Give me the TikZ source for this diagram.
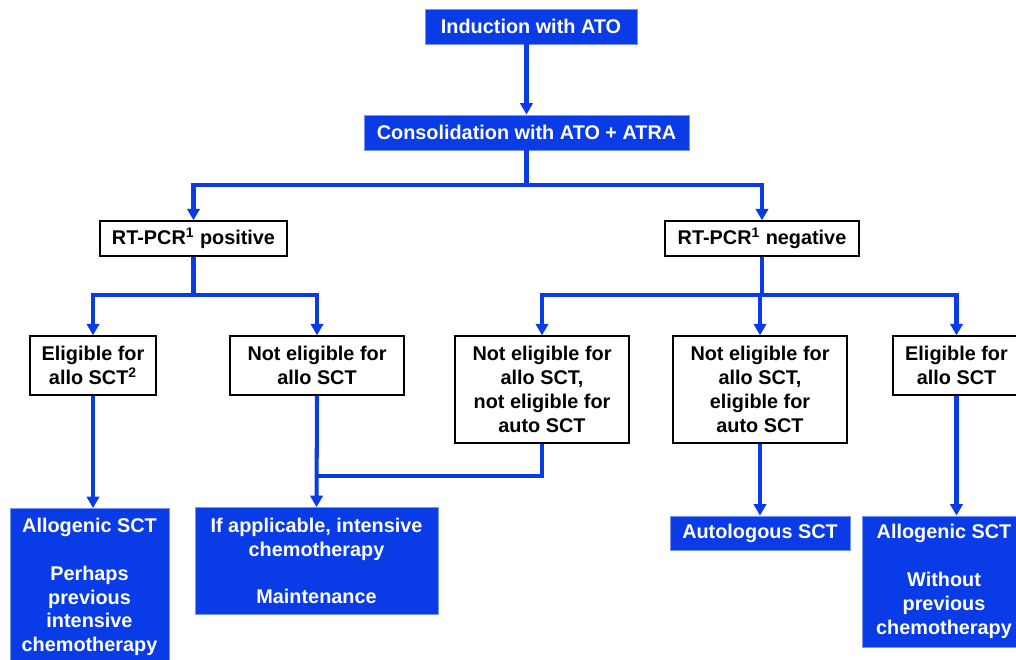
\documentclass[tikz,border=0pt]{standalone}
\usepackage{fontspec}
\setmainfont{Liberation Sans}
\usetikzlibrary{arrows.meta}
\definecolor{apblue}{RGB}{9,59,230}
\tikzset{every node/.style={font=\fontsize{11.3}{13.6}\selectfont\bfseries,align=center,inner sep=0pt},
  wbox/.style={draw=black,line width=0.8pt,fill=white},
  bbox/.style={draw=apblue!55,fill=apblue,text=white,line width=0.5pt},
  link/.style={apblue,line width=2.3pt},
  arr/.style={link,-{Triangle[width=7pt,length=6.5pt]}}}

\begin{document}
\begin{tikzpicture}[x=0.02cm,y=-0.02cm]
      \useasboundingbox (0,0) rectangle (1016,659);
      \node[bbox,minimum width=4.24cm,minimum height=0.7cm] (ind) at (531,26.5) {Induction with ATO};
      \node[bbox,minimum width=6.5cm,minimum height=0.7cm] (cons) at (526.5,132.5) {Consolidation with ATO + ATRA};
      \node[wbox,minimum width=3.74cm,minimum height=0.7cm] (pos) at (193.5,238.5) {RT-PCR\textsuperscript{1} positive};
      \node[wbox,minimum width=3.88cm,minimum height=0.7cm] (neg) at (762,238.5) {RT-PCR\textsuperscript{1} negative};
      \node[wbox,minimum width=2.52cm,minimum height=1.18cm] (eligL) at (93,365.5) {Eligible for\\allo SCT\textsuperscript{2}};
      \node[wbox,minimum width=3.48cm,minimum height=1.18cm] (notL) at (317,365.5) {Not eligible for\\allo SCT};
      \node[wbox,minimum width=3.48cm,minimum height=2.14cm] (nn) at (542,389.5) {Not eligible for\\allo SCT,\\not eligible for\\auto SCT};
      \node[wbox,minimum width=3.48cm,minimum height=2.14cm] (ne) at (760,389.5) {Not eligible for\\allo SCT,\\eligible for\\auto SCT};
      \node[wbox,minimum width=2.54cm,minimum height=1.18cm] (eligR) at (956.5,365.5) {Eligible for\\allo SCT};
      \node[bbox,minimum width=3.18cm,minimum height=3.14cm] (alloL) at (89.5,587) {Allogenic SCT\\[13.6pt]Perhaps\\previous\\intensive\\chemotherapy};
      \node[bbox,minimum width=4.86cm,minimum height=2.14cm] (chemo) at (316.5,561) {If applicable, intensive\\chemotherapy\\[13.6pt]Maintenance};
      \node[bbox,minimum width=3.6cm,minimum height=0.68cm] (auto) at (760,533) {Autologous SCT};
      \node[bbox,minimum width=3.28cm,minimum height=2.62cm] (alloR) at (944,581.5) {Allogenic SCT\\[13.6pt]Without\\previous\\chemotherapy};

      \coordinate (c1) at (526.5,185);
      \coordinate (c2) at (193.5,295);
      \coordinate (c3) at (762,295);
      \coordinate (c4) at (317,476);

      \draw[arr] (ind.south -| cons.north) -- (cons.north);
      \draw[link] (cons.south) -- (c1);
      \draw[arr] (c1) -| (pos.north);
      \draw[arr] (c1) -| (neg.north);
      \draw[link] (pos.south) -- (c2);
      \draw[arr] (c2) -| (eligL.north);
      \draw[arr] (c2) -| (notL.north);
      \draw[link] (neg.south) -- (c3);
      \draw[arr] (c3) -| (nn.north);
      \draw[arr] (c3) -| (ne.north);
      \draw[arr] (c3) -| (eligR.north);
      \draw[arr] (eligL.south) -- (eligL.south |- alloL.north);
      \draw[arr] (notL.south) -- (chemo.north);
      \draw[link] (nn.south) |- (c4);
      \draw[arr] (ne.south) -- (auto.north);
      \draw[arr] (eligR.south) -- (eligR.south |- alloR.north);
\end{tikzpicture}
\end{document}
